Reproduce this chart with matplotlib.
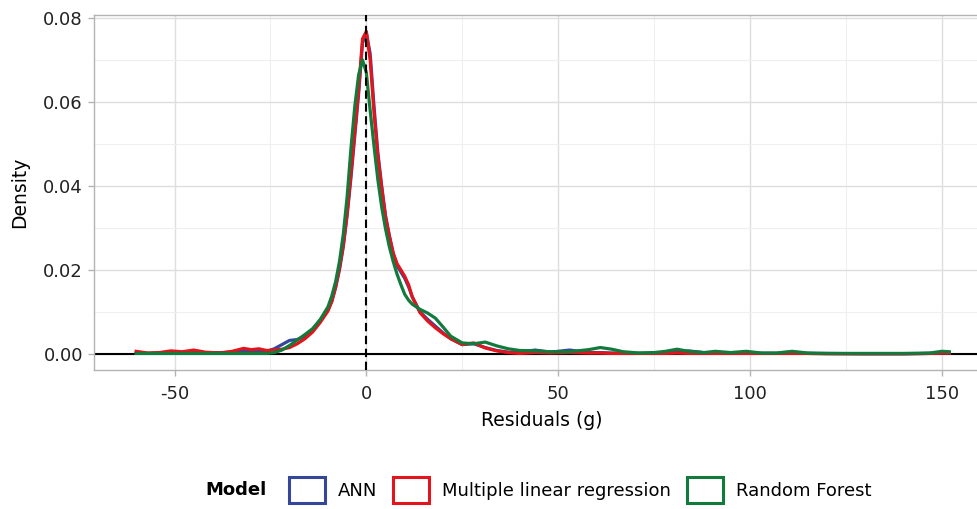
import matplotlib
matplotlib.use('Agg')
import matplotlib.pyplot as plt
from matplotlib.patches import Patch
from matplotlib.ticker import MultipleLocator, FormatStrFormatter

# residual grid (g) and density for each model
residuals = [-60, -57, -54, -51, -48, -45, -42, -38, -35, -32,
             -30, -28, -26, -24, -22, -20, -18, -16, -14, -12,
             -10, -9, -8, -7, -6, -5, -4, -3, -2, -1,
             0, 1, 2, 3, 4, 5, 6, 7, 8, 9,
             10, 11, 12, 14, 16, 18, 20, 22, 25, 28,
             31, 34, 37, 40, 44, 48, 53, 58, 61, 64,
             67, 71, 75, 78, 81, 84, 88, 91, 95, 99,
             103, 107, 111, 115, 120, 130, 140, 147, 150, 152]

ann = [0.0002, 0.0001, 0.0002, 0.0003, 0.0003, 0.0004, 0.0002, 0.0003, 0.0004, 0.0006,
       0.0007, 0.0008, 0.0006, 0.0012, 0.0022, 0.0032, 0.0034, 0.0042, 0.0058, 0.0080,
       0.0105, 0.0125, 0.0158, 0.0200, 0.0255, 0.0330, 0.0420, 0.0520, 0.0620, 0.0740,
       0.0765, 0.0715, 0.0590, 0.0480, 0.0400, 0.0330, 0.0282, 0.0240, 0.0210, 0.0195,
       0.0180, 0.0160, 0.0135, 0.0100, 0.0082, 0.0066, 0.0050, 0.0036, 0.0022, 0.0024,
       0.0015, 0.0008, 0.0004, 0.0004, 0.0009, 0.0004, 0.0009, 0.0003, 0.0003, 0.0002,
       0.0002, 0.0001, 0.0002, 0.0003, 0.0004, 0.0007, 0.0003, 0.0002, 0.0002, 0.0002,
       0.0001, 0.0001, 0.0002, 0.0001, 0.0001, 0.0000, 0.0000, 0.0001, 0.0002, 0.0002]

mlr = [0.0006, 0.0002, 0.0003, 0.0007, 0.0005, 0.0009, 0.0004, 0.0002, 0.0006, 0.0013,
       0.0010, 0.0012, 0.0008, 0.0009, 0.0011, 0.0015, 0.0024, 0.0036, 0.0052, 0.0075,
       0.0102, 0.0125, 0.0160, 0.0205, 0.0260, 0.0335, 0.0430, 0.0530, 0.0630, 0.0750,
       0.0768, 0.0700, 0.0575, 0.0470, 0.0395, 0.0325, 0.0280, 0.0240, 0.0215, 0.0200,
       0.0185, 0.0165, 0.0135, 0.0098, 0.0078, 0.0062, 0.0048, 0.0036, 0.0022, 0.0026,
       0.0014, 0.0007, 0.0003, 0.0001, 0.0003, 0.0002, 0.0003, 0.0002, 0.0002, 0.0001,
       0.0001, 0.0001, 0.0001, 0.0001, 0.0002, 0.0001, 0.0001, 0.0001, 0.0001, 0.0001,
       0.0001, 0.0001, 0.0001, 0.0001, 0.0000, 0.0000, 0.0000, 0.0001, 0.0002, 0.0002]

rf = [0.0001, 0.0001, 0.0001, 0.0001, 0.0001, 0.0001, 0.0001, 0.0001, 0.0001, 0.0001,
      0.0001, 0.0001, 0.0001, 0.0003, 0.0009, 0.0020, 0.0033, 0.0046, 0.0060, 0.0082,
      0.0112, 0.0138, 0.0172, 0.0220, 0.0285, 0.0375, 0.0490, 0.0590, 0.0665, 0.0700,
      0.0670, 0.0580, 0.0495, 0.0415, 0.0350, 0.0298, 0.0255, 0.0220, 0.0190, 0.0165,
      0.0142, 0.0128, 0.0118, 0.0106, 0.0097, 0.0085, 0.0064, 0.0042, 0.0026, 0.0024,
      0.0028, 0.0019, 0.0012, 0.0008, 0.0007, 0.0005, 0.0005, 0.0010, 0.0015, 0.0011,
      0.0005, 0.0002, 0.0003, 0.0006, 0.0011, 0.0006, 0.0003, 0.0006, 0.0003, 0.0006,
      0.0002, 0.0002, 0.0006, 0.0002, 0.0001, 0.0001, 0.0001, 0.0002, 0.0006, 0.0005]

models = ['ANN', 'Multiple linear regression', 'Random Forest']
colors = ['#34479a', '#e3141b', '#127a3b']
x_ticks = [-50, 0, 50, 100, 150]
y_ticks = [0.00, 0.02, 0.04, 0.06, 0.08]

plt.rcParams['font.family'] = 'DejaVu Sans'
plt.rcParams['axes.unicode_minus'] = False

fig = plt.figure(figsize=(9.77, 5.09), dpi=100)
W, H = 977, 509
ax = fig.add_axes([94 / W, 1 - 370 / H, (990 - 94) / W, (370 - 15) / H])

ax.axhline(0, color='black', lw=1.5, zorder=2)
for dens, c in zip([ann, mlr, rf], colors):
    ax.plot(residuals, dens, color=c, lw=2.3, solid_joinstyle='round', zorder=3)
ax.axvline(0, color='black', lw=1.5, ls=(0, (4, 2.2)), zorder=4)

ax.set_xlim(-71, 162.6)
ax.set_ylim(-0.00385, 0.0807)
ax.set_xticks(x_ticks)
ax.set_yticks(y_ticks)
ax.yaxis.set_major_formatter(FormatStrFormatter('%.2f'))
ax.xaxis.set_minor_locator(MultipleLocator(25))
ax.yaxis.set_minor_locator(MultipleLocator(0.01))
ax.grid(which='major', color='#dedede', lw=1.0)
ax.grid(which='minor', color='#efefef', lw=0.8)
ax.set_axisbelow(True)
for s in ax.spines.values():
    s.set_color('#b3b3b3')
    s.set_linewidth(1.0)
ax.tick_params(which='major', length=4, width=1, color='#b3b3b3',
               labelsize=13, labelcolor='#222222', pad=4)
ax.tick_params(axis='x', which='major', pad=6.5)
ax.tick_params(which='minor', length=0)
ax.set_xlabel('Residuals (g)', fontsize=13.5, labelpad=6)
ax.set_ylabel('Density', fontsize=13.5, labelpad=10)

handles = [Patch(facecolor='white', edgecolor=c, linewidth=2.2) for c in colors]
fig.legend(handles, models, loc='center', bbox_to_anchor=(580 / W, 1 - 490 / H),
           ncol=3, frameon=False, fontsize=13, handlelength=2.0, handleheight=1.9,
           handletextpad=0.7, columnspacing=0.9, borderpad=0, borderaxespad=0)
fig.text(205 / W, 1 - 490 / H, 'Model', fontsize=13, fontweight='bold',
         va='center', ha='left')

fig.savefig('out.png', dpi=100)
